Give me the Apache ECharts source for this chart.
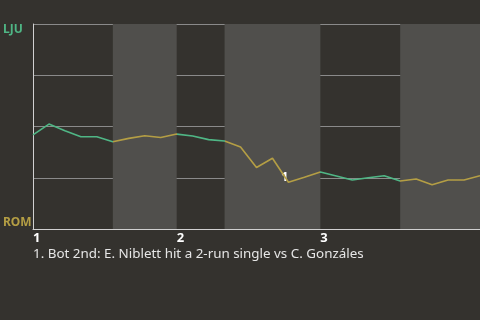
<!DOCTYPE html>
<html>
<head>
<meta charset="utf-8">
<script src="https://cdn.jsdelivr.net/npm/echarts@6/dist/echarts.min.js"></script>
<style>
  html, body { margin: 0; padding: 0; background: #34322e; }
  #chart { width: 480px; height: 320px; }
</style>
</head>
<body>
<div id="chart"></div>
<script>
  // win probability for LJU after each plate appearance (1 = LJU, 0 = ROM)
  const winProb = [0.459, 0.512, 0.479, 0.45, 0.45, 0.426, 0.442, 0.455, 0.446, 0.463,
    0.454, 0.436, 0.429, 0.40, 0.30, 0.345, 0.228, 0.252, 0.278, 0.259,
    0.239, 0.25, 0.26, 0.234, 0.244, 0.216, 0.239, 0.239, 0.26]
  const categories = winProb.map((v, i) => String(i))
  // plate-appearance index where each half inning starts
  const halfStarts = [0, 5, 9, 12, 18, 23, 28]
  const inningTicks = [0, 9, 18]
  const inningLabels = ['1', '2', '3']
  const noteIndex = 16
  const noteLabel = '1'
  const caption = '1. Bot 2nd: E. Niblett hit a 2-run single vs C. Gonzáles'

  const green = '#4fb685'
  const yellow = '#b49e44'

  const pieces = []
  const bands = []
  for (let i = 0; i < halfStarts.length - 1; i++) {
    const top = i % 2 === 0
    pieces.push({ gt: i === 0 ? -1 : halfStarts[i], lte: halfStarts[i + 1], color: top ? green : yellow })
    if (!top) bands.push([{ xAxis: halfStarts[i] }, { xAxis: halfStarts[i + 1] }])
  }

  const chart = echarts.init(document.getElementById('chart'))
  chart.setOption({
    backgroundColor: '#34322e',
    animation: false,
    title: {
      text: caption, left: 28, top: 243,
      textStyle: { color: '#e6e6e6', fontSize: 13.4, fontWeight: 'normal', fontFamily: 'Noto Sans' }
    },
    grid: { left: 33, right: 0, top: 24, bottom: 91 },
    xAxis: {
      type: 'category',
      data: categories,
      boundaryGap: false,
      axisLine: { lineStyle: { color: '#d0d0d0', width: 1 } },
      axisTick: { show: false },
      axisLabel: {
        interval: (idx) => inningTicks.includes(idx),
        formatter: (v, idx) => inningLabels[inningTicks.indexOf(idx)] || '',
        align: 'left', margin: 3,
        color: '#fff', fontWeight: 'bold', fontSize: 13, fontFamily: 'Noto Sans'
      },
      splitLine: { show: false }
    },
    yAxis: {
      type: 'value', min: 0, max: 1, interval: 0.25,
      axisLine: { show: true, lineStyle: { color: '#d0d0d0', width: 1 } },
      axisTick: { show: false },
      splitLine: { lineStyle: { color: '#8a8a8a', width: 1 } },
      axisLabel: {
        align: 'left', margin: 30,
        verticalAlignMaxLabel: 'top', verticalAlignMinLabel: 'bottom',
        formatter: (v) => v === 1 ? '{a|LJU}' : v === 0 ? '{b|ROM}' : '',
        rich: {
          a: { color: green, fontWeight: 'bold', fontSize: 12, fontFamily: 'Noto Sans' },
          b: { color: yellow, fontWeight: 'bold', fontSize: 12, fontFamily: 'Noto Sans' }
        }
      }
    },
    visualMap: {
      show: false, type: 'piecewise', dimension: 0, seriesIndex: 0,
      pieces: pieces
    },
    series: [{
      type: 'line',
      data: winProb,
      symbol: 'none',
      z: 5,
      lineStyle: { width: 1.6 },
      markArea: {
        silent: true,
        itemStyle: { color: '#504f4c' },
        data: bands
      },
      markPoint: {
        silent: true,
        symbol: 'circle',
        symbolSize: 0,
        data: [{
          coord: [noteIndex, winProb[noteIndex]],
          label: {
            show: true, formatter: noteLabel, position: 'left', distance: 1, offset: [1, -5],
            color: '#fff', fontWeight: 'bold', fontSize: 13, fontFamily: 'Noto Sans'
          }
        }]
      }
    }]
  })
</script>
</body>
</html>
